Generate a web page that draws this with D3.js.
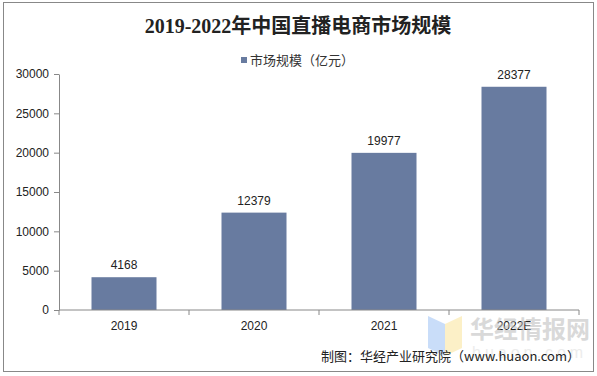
<!DOCTYPE html>
<html><head><meta charset="utf-8">
<script src="https://cdn.jsdelivr.net/npm/d3@7"></script>
<style>body{margin:0;background:#fff}svg{display:block}</style>
</head><body>
<svg id="c" width="597" height="376"></svg>
<script>
const categories = ["2019","2020","2021","2022E"];
const values = [4168,12379,19977,28377];
const yTicks = [0,5000,10000,15000,20000,25000,30000];
const title = "2019-2022年中国直播电商市场规模";
const legendLabel = "市场规模（亿元）";
const source = "制图：华经产业研究院（www.huaon.com）";

(function(){
const svg = d3.select("#c");
svg.append("rect").attr("x",3.5).attr("y",2.5).attr("width",590).attr("height",369)
  .attr("fill","#fff").attr("stroke","#888").attr("stroke-width",1);

const mLeft=59,mRight=579,mTop=74,mBottom=310;
const x=d3.scaleBand().domain(categories).range([mLeft,mRight]).paddingInner(0.5).paddingOuter(0.25);
const y=d3.scaleLinear().domain([0,30000]).range([mBottom,mTop]);
const band=d3.scaleBand().domain(categories).range([mLeft,mRight]);

const font="'Liberation Sans', Arial, 'Noto Sans CJK SC', sans-serif";

// title
svg.append("text").attr("x",298).attr("y",33).attr("text-anchor","middle")
  .attr("font-family","'Liberation Serif','DejaVu Serif','Noto Sans CJK SC',serif")
  .attr("font-size",20).attr("font-weight","bold").attr("fill","#222").text(title);

// legend
svg.append("rect").attr("x",241).attr("y",57).attr("width",6).attr("height",6).attr("fill","#687BA0");
svg.append("text").attr("x",250).attr("y",65).attr("font-family","'Noto Sans CJK SC',sans-serif")
  .attr("font-size",13).attr("fill","#333").text(legendLabel);

// y axis
const yAxis=d3.axisLeft(y).tickValues(yTicks).tickFormat(d3.format("d")).tickSize(5).tickSizeOuter(0).tickPadding(5);
const gy=svg.append("g").attr("transform",`translate(${mLeft},0)`).call(yAxis);
gy.selectAll("path,line").attr("stroke","#888");
gy.selectAll("text").attr("font-family",font).attr("font-size",12).attr("fill","#222");

// bars
svg.append("g").selectAll("rect").data(values).join("rect")
  .attr("x",(d,i)=>x(categories[i])).attr("width",x.bandwidth())
  .attr("y",d=>y(d)).attr("height",d=>mBottom-y(d)).attr("fill","#687BA0");

// value labels
svg.append("g").selectAll("text").data(values).join("text")
  .attr("x",(d,i)=>x(categories[i])+x.bandwidth()/2).attr("y",d=>y(d)-8)
  .attr("text-anchor","middle").attr("font-family",font).attr("font-size",12).attr("fill","#222")
  .text(d=>d);

// x axis
const gx=svg.append("g").attr("transform",`translate(0,${mBottom})`);
gx.append("line").attr("x1",mLeft).attr("x2",mRight).attr("stroke","#888");
gx.selectAll("line.t").data(categories.concat(["end"])).join("line").attr("class","t")
  .attr("x1",(d,i)=>mLeft+i*band.bandwidth()).attr("x2",(d,i)=>mLeft+i*band.bandwidth())
  .attr("y1",0).attr("y2",5).attr("stroke","#888");
gx.selectAll("text").data(categories).join("text")
  .attr("x",d=>band(d)+band.bandwidth()/2).attr("y",20).attr("text-anchor","middle")
  .attr("font-family",font).attr("font-size",12).attr("fill","#222").text(d=>d);

// watermark
const wm=svg.append("g").attr("opacity",0.55);
wm.append("path").attr("d","M428,316 L445,324 L445,356 L428,348 Z").attr("fill","#9EC3F5");
wm.append("path").attr("d","M445,324 L462,316 L462,348 L445,356 Z").attr("fill","#FBE59A");
wm.append("text").attr("x",470).attr("y",338).attr("font-family","'Noto Sans CJK SC',sans-serif")
  .attr("font-size",24).attr("font-weight","bold").attr("fill","#bbb").text("华经情报网");
wm.append("text").attr("x",472).attr("y",358).attr("font-family",font)
  .attr("font-size",16).attr("letter-spacing",4).attr("fill","#ddd").text("huaon.com");

// source
svg.append("text").attr("x",580).attr("y",361).attr("text-anchor","end")
  .attr("font-family","'Noto Sans CJK SC',sans-serif").attr("font-size",13).attr("fill","#222").text(source);
})();
</script>
</body></html>
